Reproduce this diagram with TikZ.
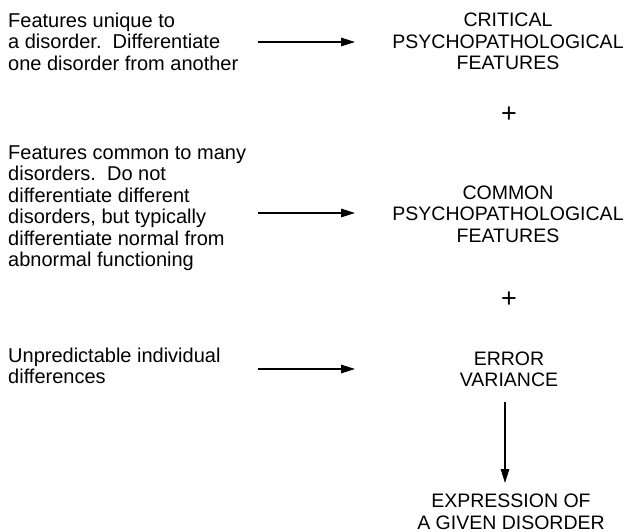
\documentclass[tikz,border=0pt]{standalone}
\usepackage{fontspec}
\setmainfont{Liberation Sans}
\usetikzlibrary{arrows.meta}
\tikzset{
  lefttext/.style={anchor=north west, align=left, inner sep=0pt, font=\fontsize{20}{21.5}\selectfont},
  righttext/.style={anchor=north, align=center, inner sep=0pt, font=\fontsize{19.5}{21.5}\selectfont},
  plus/.style={inner sep=0pt, font=\fontsize{27}{27}\selectfont},
  link/.style={-{Triangle[length=14pt,width=8.5pt]}, line width=1.3pt}
}
\begin{document}
\begin{tikzpicture}[x=1pt,y=-1pt]
\useasboundingbox (0,0) rectangle (630,532);
\node[lefttext] (l1) at (8,12.8) {Features unique to\\a disorder.\ \ Differentiate\\one disorder from another};
\node[lefttext] (l2) at (8,145.5) {Features common to many\\disorders.\ \ Do not\\differentiate different\\disorders, but typically\\differentiate normal from\\abnormal functioning};
\node[lefttext] (l3) at (8,347.8) {Unpredictable individual\\differences};
\node[righttext] (r1) at (508,13) {CRITICAL\\PSYCHOPATHOLOGICAL\\FEATURES};
\node[plus] (p1) at (509,115) {+};
\node[righttext] (r2) at (508,185.5) {COMMON\\PSYCHOPATHOLOGICAL\\FEATURES};
\node[plus] (p2) at (509,300) {+};
\node[righttext] (r3) at (509,351.5) {ERROR\\VARIANCE};
\node[righttext] (r4) at (511,494) {EXPRESSION OF\\A GIVEN DISORDER};
\coordinate (a1s) at (258,42); \coordinate (a1e) at (355,42);
\coordinate (a2s) at (258,213); \coordinate (a2e) at (355,213);
\coordinate (a3s) at (258,369); \coordinate (a3e) at (355,369);
\coordinate (v1) at (505,402); \coordinate (v2) at (505,483);
\draw[link] (a1s) -- (a1e);
\draw[link] (a2s) -- (a2e);
\draw[link] (a3s) -- (a3e);
\draw[link] (v1) -- (v2);
\end{tikzpicture}
\end{document}
